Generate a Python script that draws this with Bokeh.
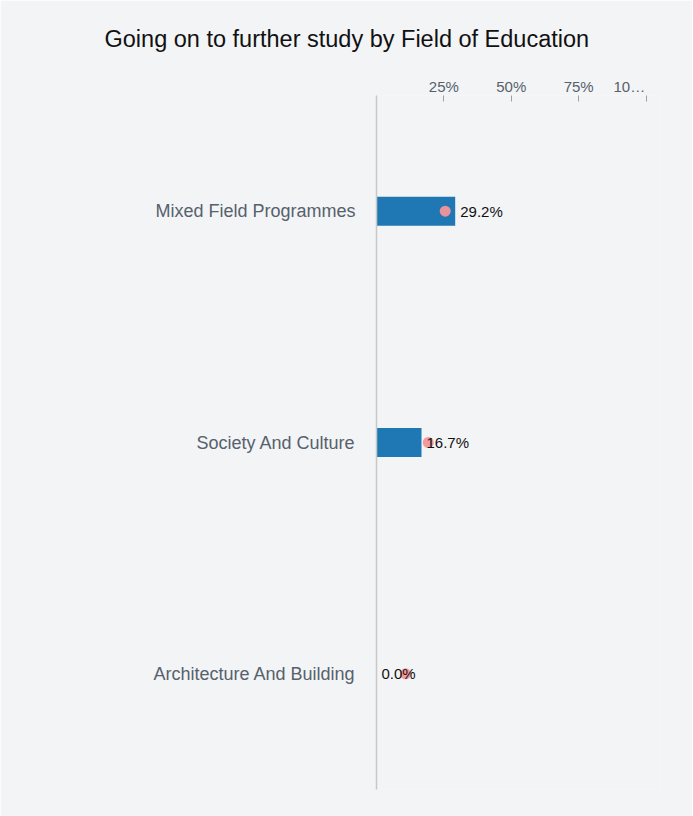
from bokeh.plotting import figure
from bokeh.models import FactorRange, Range1d, ColumnDataSource
from bokeh.core.properties import value
from bokeh.embed import file_html
from bokeh.resources import INLINE

# ---- data ----
fields = ["Mixed Field Programmes", "Society And Culture", "Architecture And Building"]
further_study = [29.2, 16.7, 0.0]          # % going on to further study
comparison = [25.5, 19.2, 10.8]            # pink marker values (%)
x_ticks = [25, 50, 75, 100]
x_tick_labels = ["25%", "50%", "75%", "10…"]

BG = "#f3f4f6"
FONT = "Liberation Sans"

src = ColumnDataSource(dict(
    field=fields,
    val=further_study,
    cmp=comparison,
    lab=[f"{v:.1f}%" for v in further_study],
))

p = figure(
    width=692, height=816,
    title="Going on to further study by Field of Education",
    y_range=FactorRange(factors=list(reversed(fields)), range_padding=0),
    x_range=Range1d(0, 105),
    x_axis_location="above",
    output_backend="svg", toolbar_location=None,
    min_border_left=376, min_border_right=33, min_border_top=94, min_border_bottom=27,
    background_fill_color=BG, border_fill_color=BG,
)
p.outline_line_color = None
p.xgrid.grid_line_color = None
p.ygrid.grid_line_color = None

p.title.align = "left"
p.title.offset = -272
p.title.standoff = 46
p.title.text_font = FONT
p.title.text_font_size = "23.5px"
p.title.text_font_style = "normal"
p.title.text_color = "#111111"

p.hbar(y="field", right="val", left=0, height=0.125, source=src,
       fill_color="#1f77b4", line_color=None)
p.scatter(x="cmp", y="field", size=11, source=src, fill_color="#f39398",
          line_color=None, fill_alpha=0.95)
p.text(x="val", y="field", text="lab", source=src, x_offset=5,
       text_baseline="middle", text_align="left",
       text_font=value(FONT), text_font_size="15px", text_color="#111111")

xa = p.xaxis[0]
xa.ticker = x_ticks
# the truncated last label sits left of its tick, as in the original
labels = list(x_tick_labels)
labels[-1] = labels[-1] + "\u00a0" * 8
xa.major_label_overrides = dict(zip(x_ticks, labels))
xa.axis_line_color = None
xa.major_tick_in = 6
xa.major_tick_out = 0
xa.major_tick_line_color = "#9aa0a6"
xa.minor_tick_line_color = None
xa.major_label_standoff = 1
xa.major_label_text_font = FONT
xa.major_label_text_font_size = "15px"
xa.major_label_text_color = "#56616d"

ya = p.yaxis[0]
ya.axis_line_color = "#c8c8c8"
ya.axis_line_width = 1.5
ya.major_tick_line_color = None
ya.minor_tick_line_color = None
ya.major_label_standoff = 15
ya.major_label_text_font = FONT
ya.major_label_text_font_size = "18px"
ya.major_label_text_color = "#56616d"

open("out.html", "w").write(file_html(p, INLINE))
